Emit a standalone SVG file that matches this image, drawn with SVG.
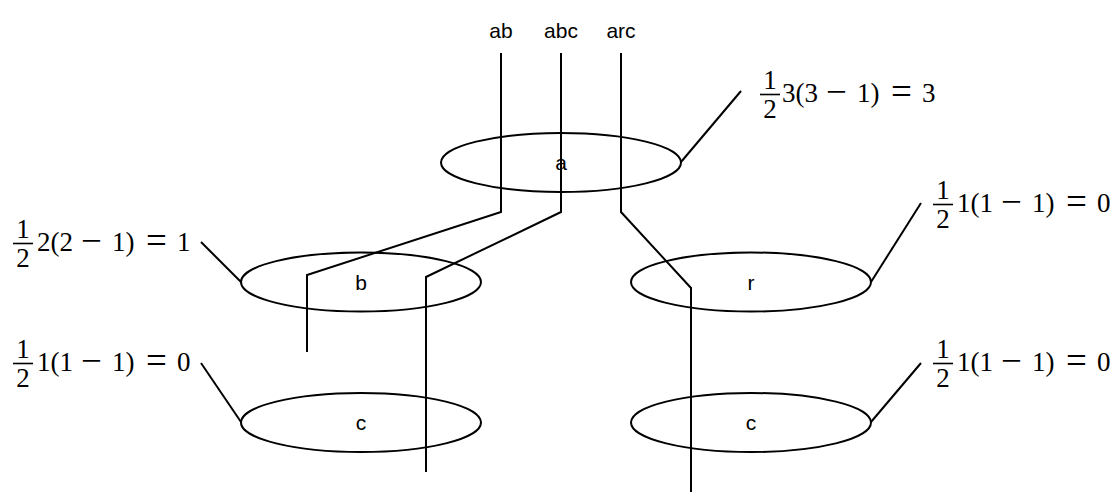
<svg xmlns="http://www.w3.org/2000/svg" width="1120" height="496" viewBox="0 0 1120 496">
<style>
.ell{fill:none;stroke:#000;stroke-width:2}
.ln{fill:none;stroke:#000;stroke-width:2}
.lbl{font-family:"Liberation Sans",Arial,sans-serif;font-size:21px;fill:#000;text-anchor:middle}
.m{font-family:"Liberation Serif","Times New Roman",serif;font-size:27px;fill:#000}
.op{font-family:"Liberation Serif","Times New Roman",serif;font-size:37px;fill:#000}
.mc{font-family:"Liberation Serif","Times New Roman",serif;font-size:27px;fill:#000;text-anchor:middle}
.bar{stroke:#000;stroke-width:1.6}
</style>
<rect width="1120" height="496" fill="#fff"/>
<g id="connectors">
<polyline class="ln" points="501,53 501,212 307,275 307,352"/>
<polyline class="ln" points="561,53 561,212 426,277 426,472"/>
<polyline class="ln" points="621,53 621,212 691,288 691,492"/>
<line class="ln" x1="681" y1="162" x2="741" y2="91"/>
<line class="ln" x1="241" y1="282" x2="201" y2="242"/>
<line class="ln" x1="871" y1="282" x2="921" y2="203"/>
<line class="ln" x1="241" y1="422" x2="201" y2="363"/>
<line class="ln" x1="871" y1="422" x2="921" y2="363"/>
</g>
<g id="top-labels">
<text class="lbl" x="501" y="38">ab</text>
<text class="lbl" x="561" y="38">abc</text>
<text class="lbl" x="621" y="38">arc</text>
</g>
<g id="node-a">
<ellipse class="ell" cx="561" cy="162.5" rx="120" ry="29.5"/>
<text class="lbl" x="561" y="170">a</text>
</g>
<g id="node-b">
<ellipse class="ell" cx="361" cy="282" rx="120" ry="29.5"/>
<text class="lbl" x="361" y="290">b</text>
</g>
<g id="node-r">
<ellipse class="ell" cx="751" cy="282" rx="120" ry="29.5"/>
<text class="lbl" x="751" y="290">r</text>
</g>
<g id="node-c1">
<ellipse class="ell" cx="361" cy="422.5" rx="120" ry="29.5"/>
<text class="lbl" x="361" y="430">c</text>
</g>
<g id="node-c2">
<ellipse class="ell" cx="751" cy="422.5" rx="120" ry="29.5"/>
<text class="lbl" x="751" y="430">c</text>
</g>
<g id="label-a">
<text class="mc" x="770" y="89">1</text>
<line class="bar" x1="760" y1="94.5" x2="780" y2="94.5"/>
<text class="mc" x="770" y="118">2</text>
<text class="m" y="102"><tspan x="782">3(3</tspan><tspan x="857">1)</tspan><tspan x="922">3</tspan></text>
<text class="op" y="103.5"><tspan x="826">−</tspan><tspan x="891">=</tspan></text>
</g>
<g id="label-b">
<text class="mc" x="23" y="238">1</text>
<line class="bar" x1="13" y1="243.5" x2="33" y2="243.5"/>
<text class="mc" x="23" y="267">2</text>
<text class="m" y="251"><tspan x="37">2(2</tspan><tspan x="112">1)</tspan><tspan x="177">1</tspan></text>
<text class="op" y="252.5"><tspan x="81">−</tspan><tspan x="146">=</tspan></text>
</g>
<g id="label-r">
<text class="mc" x="943" y="199">1</text>
<line class="bar" x1="933" y1="204.5" x2="953" y2="204.5"/>
<text class="mc" x="943" y="228">2</text>
<text class="m" y="212"><tspan x="957">1(1</tspan><tspan x="1032">1)</tspan><tspan x="1097">0</tspan></text>
<text class="op" y="213.5"><tspan x="1001">−</tspan><tspan x="1066">=</tspan></text>
</g>
<g id="label-c1">
<text class="mc" x="23" y="358">1</text>
<line class="bar" x1="13" y1="363.5" x2="33" y2="363.5"/>
<text class="mc" x="23" y="387">2</text>
<text class="m" y="371"><tspan x="37">1(1</tspan><tspan x="112">1)</tspan><tspan x="177">0</tspan></text>
<text class="op" y="372.5"><tspan x="81">−</tspan><tspan x="146">=</tspan></text>
</g>
<g id="label-c2">
<text class="mc" x="943" y="358">1</text>
<line class="bar" x1="933" y1="363.5" x2="953" y2="363.5"/>
<text class="mc" x="943" y="387">2</text>
<text class="m" y="371"><tspan x="957">1(1</tspan><tspan x="1032">1)</tspan><tspan x="1097">0</tspan></text>
<text class="op" y="372.5"><tspan x="1001">−</tspan><tspan x="1066">=</tspan></text>
</g>
</svg>
